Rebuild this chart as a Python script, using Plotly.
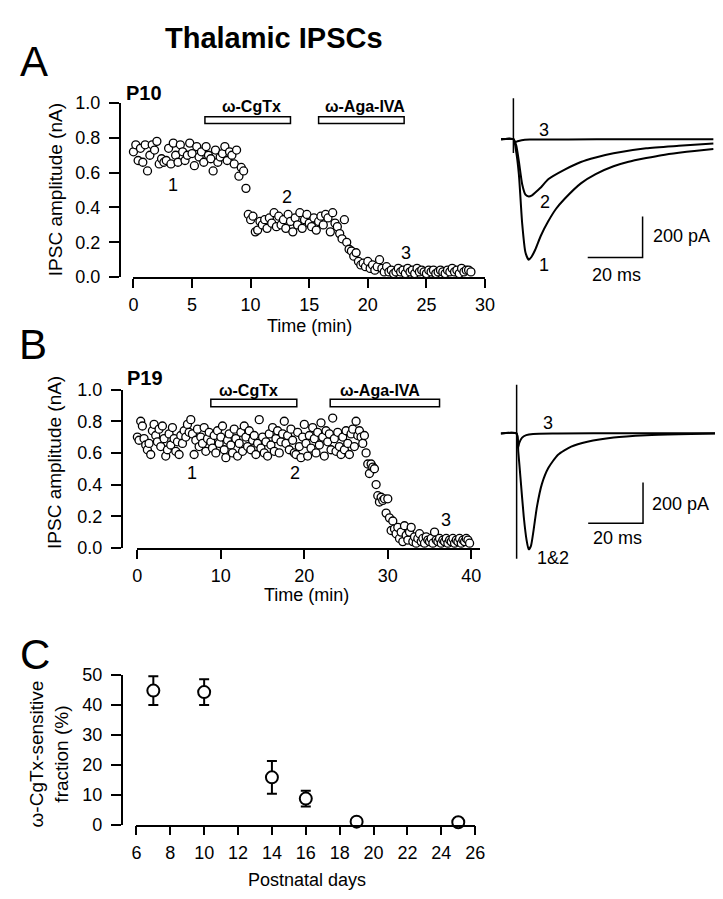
import plotly.graph_objects as go

W, H = 723, 899
FONT = "Liberation Sans, Arial, Helvetica, sans-serif"

# ---------------- Panel A: P10 time course ----------------
a_time = [
    0.0, 0.2, 0.4, 0.6, 0.8, 1.0, 1.2, 1.4, 1.6, 1.8,
    2.0, 2.2, 2.4, 2.6, 2.8, 3.0, 3.2, 3.4, 3.6, 3.8,
    4.0, 4.2, 4.4, 4.6, 4.8, 5.0, 5.2, 5.4, 5.6, 5.8,
    6.0, 6.2, 6.4, 6.6, 6.8, 7.0, 7.2, 7.4, 7.6, 7.8,
    8.0, 8.2, 8.4, 8.6, 8.8, 9.0, 9.2, 9.4, 9.6, 9.8,
    10.0, 10.2, 10.4, 10.6, 10.8, 11.0, 11.2, 11.4, 11.6, 11.8,
    12.0, 12.2, 12.4, 12.6, 12.8, 13.0, 13.2, 13.4, 13.6, 13.8,
    14.0, 14.2, 14.4, 14.6, 14.8, 15.0, 15.2, 15.4, 15.6, 15.8,
    16.0, 16.2, 16.4, 16.6, 16.8, 17.0, 17.2, 17.4, 17.6, 17.8,
    18.0, 18.2, 18.4, 18.6, 18.8, 19.0, 19.2, 19.4, 19.6, 19.8,
    20.0, 20.2, 20.4, 20.6, 20.8, 21.0, 21.2, 21.4, 21.6, 21.8,
    22.0, 22.2, 22.4, 22.6, 22.8, 23.0, 23.2, 23.4, 23.6, 23.8,
    24.0, 24.2, 24.4, 24.6, 24.8, 25.0, 25.2, 25.4, 25.6, 25.8,
    26.0, 26.2, 26.4, 26.6, 26.8, 27.0, 27.2, 27.4, 27.6, 27.8,
    28.0, 28.2, 28.4, 28.6, 28.8,
]
a_amp = [
    0.72, 0.76, 0.67, 0.74, 0.66, 0.76, 0.61, 0.70, 0.76, 0.73,
    0.78, 0.65, 0.68, 0.66, 0.67, 0.74, 0.65, 0.77, 0.70, 0.66,
    0.76, 0.72, 0.67, 0.70, 0.77, 0.71, 0.64, 0.75, 0.69, 0.72,
    0.66, 0.75, 0.70, 0.68, 0.61, 0.73, 0.66, 0.69, 0.71, 0.75,
    0.67, 0.72, 0.70, 0.65, 0.73, 0.58, 0.63, 0.61, 0.51, 0.36,
    0.33, 0.35, 0.26, 0.27, 0.32, 0.30, 0.33, 0.28, 0.34, 0.31,
    0.37, 0.29, 0.35, 0.30, 0.33, 0.28, 0.36, 0.32, 0.26, 0.34,
    0.30, 0.37, 0.28, 0.33, 0.36, 0.31, 0.29, 0.34, 0.27, 0.32,
    0.35, 0.30, 0.36, 0.34, 0.26, 0.37, 0.31, 0.29, 0.25, 0.22,
    0.33, 0.20, 0.16, 0.15, 0.12, 0.14, 0.09, 0.07, 0.08, 0.06,
    0.09, 0.05, 0.07, 0.04, 0.06, 0.10, 0.05, 0.03, 0.06, 0.03,
    0.04, 0.02, 0.03, 0.05, 0.03, 0.04, 0.02, 0.05, 0.03, 0.04,
    0.02, 0.05, 0.03, 0.04, 0.03, 0.02, 0.04, 0.03, 0.04, 0.02,
    0.03, 0.04, 0.03, 0.02, 0.04, 0.03, 0.05, 0.03, 0.04, 0.02,
    0.05, 0.03, 0.04, 0.04, 0.03,
]
a_xticks = [0, 5, 10, 15, 20, 25, 30]
a_yticks = [0.0, 0.2, 0.4, 0.6, 0.8, 1.0]
a_drugs = ["ω-CgTx", "ω-Aga-IVA"]
a_drug_start = [6.1, 15.8]
a_drug_end = [13.4, 23.1]
a_marks = ["1", "2", "3"]
a_mark_t = [3.4, 13.1, 23.3]
a_mark_y = [0.53, 0.46, 0.14]

# Panel A current traces (ms, pA)
a_tr1_t = [-4.5, 0.0, 1.0, 2.0, 3.2, 4.4, 5.6, 6.5, 8.0, 10.0, 12.7, 15.5, 18.7, 24.6, 30.0, 36.5, 42.0, 48.4, 54.0, 60.3, 66.0, 72.9]
a_tr1_i = [0, 0, -60, -171, -410, -552, -587, -575, -537, -470, -400, -340, -290, -215, -170, -132, -110, -92, -78, -66, -57, -48]
a_tr2_t = [-4.5, 0.0, 1.0, 2.0, 3.2, 4.4, 5.6, 6.8, 8.0, 10.0, 12.7, 18.7, 24.6, 30.0, 36.5, 48.4, 60.3, 72.9]
a_tr2_i = [0, 0, -29, -108, -219, -270, -279, -273, -259, -235, -195, -148, -111, -89, -68, -44, -32, -21]
a_tr3_t = [-4.5, 0.0, 0.5, 1.5, 3.0, 6.0, 20.0, 40.0, 72.9]
a_tr3_i = [0, 0, -15, -10, -5, -2, -1, 0, 0]
a_art_t = [0.0, 0.0]
a_art_i = [200, -67]

# ---------------- Panel B: P19 time course ----------------
b_time = [
    0.0, 0.2, 0.4, 0.6, 0.8, 1.0, 1.2, 1.4, 1.6, 1.8,
    2.0, 2.2, 2.4, 2.6, 2.8, 3.0, 3.2, 3.4, 3.6, 3.8,
    4.0, 4.2, 4.4, 4.6, 4.8, 5.0, 5.2, 5.4, 5.6, 5.8,
    6.0, 6.2, 6.4, 6.6, 6.8, 7.0, 7.2, 7.4, 7.6, 7.8,
    8.0, 8.2, 8.4, 8.6, 8.8, 9.0, 9.2, 9.4, 9.6, 9.8,
    10.0, 10.2, 10.4, 10.6, 10.8, 11.0, 11.2, 11.4, 11.6, 11.8,
    12.0, 12.2, 12.4, 12.6, 12.8, 13.0, 13.2, 13.4, 13.6, 13.8,
    14.0, 14.2, 14.4, 14.6, 14.8, 15.0, 15.2, 15.4, 15.6, 15.8,
    16.0, 16.2, 16.4, 16.6, 16.8, 17.0, 17.2, 17.4, 17.6, 17.8,
    18.0, 18.2, 18.4, 18.6, 18.8, 19.0, 19.2, 19.4, 19.6, 19.8,
    20.0, 20.2, 20.4, 20.6, 20.8, 21.0, 21.2, 21.4, 21.6, 21.8,
    22.0, 22.2, 22.4, 22.6, 22.8, 23.0, 23.2, 23.4, 23.6, 23.8,
    24.0, 24.2, 24.4, 24.6, 24.8, 25.0, 25.2, 25.4, 25.6, 25.8,
    26.0, 26.2, 26.4, 26.6, 26.8, 27.0, 27.2, 27.4, 27.6, 27.8,
    28.0, 28.2, 28.4, 28.6, 28.8, 29.0, 29.2, 29.4, 29.6, 29.8,
    30.0, 30.2, 30.4, 30.6, 30.8, 31.0, 31.2, 31.4, 31.6, 31.8,
    32.0, 32.2, 32.4, 32.6, 32.8, 33.0, 33.2, 33.4, 33.6, 33.8,
    34.0, 34.2, 34.4, 34.6, 34.8, 35.0, 35.2, 35.4, 35.6, 35.8,
    36.0, 36.2, 36.4, 36.6, 36.8, 37.0, 37.2, 37.4, 37.6, 37.8,
    38.0, 38.2, 38.4, 38.6, 38.8, 39.0, 39.2, 39.4, 39.6, 39.8,
]
b_amp = [
    0.70, 0.68, 0.80, 0.77, 0.69, 0.65, 0.62, 0.66, 0.59, 0.74,
    0.78, 0.71, 0.67, 0.75, 0.64, 0.77, 0.69, 0.58, 0.62, 0.72,
    0.65, 0.76, 0.69, 0.61, 0.67, 0.59, 0.71, 0.66, 0.74, 0.70,
    0.78, 0.73, 0.81, 0.72, 0.59, 0.68, 0.75, 0.64, 0.70, 0.66,
    0.76, 0.61, 0.69, 0.73, 0.67, 0.63, 0.71, 0.60, 0.74, 0.66,
    0.70, 0.77, 0.62, 0.57, 0.68, 0.72, 0.65, 0.60, 0.75, 0.69,
    0.58, 0.66, 0.73, 0.61, 0.77, 0.70, 0.64, 0.74, 0.62, 0.68,
    0.71, 0.59, 0.66, 0.81, 0.63, 0.70, 0.60, 0.67, 0.58, 0.72,
    0.65, 0.76, 0.61, 0.69, 0.74, 0.60, 0.67, 0.72, 0.80, 0.66,
    0.71, 0.62, 0.75, 0.68, 0.60, 0.59, 0.73, 0.64, 0.57, 0.70,
    0.78, 0.66, 0.58, 0.71, 0.63, 0.76, 0.69, 0.60, 0.73, 0.65,
    0.79, 0.70, 0.58, 0.74, 0.67, 0.72, 0.62, 0.82, 0.69, 0.61,
    0.73, 0.64, 0.59, 0.70, 0.62, 0.74, 0.66, 0.59, 0.72, 0.75,
    0.64, 0.80, 0.71, 0.74, 0.70, 0.66, 0.71, 0.60, 0.53, 0.47,
    0.53, 0.51, 0.50, 0.40, 0.33, 0.29, 0.32, 0.30, 0.31, 0.22,
    0.31, 0.19, 0.11, 0.17, 0.12, 0.09, 0.13, 0.06, 0.10, 0.04,
    0.14, 0.08, 0.05, 0.10, 0.13, 0.04, 0.07, 0.03, 0.06, 0.09,
    0.04, 0.06, 0.03, 0.07, 0.05, 0.04, 0.06, 0.03, 0.10, 0.05,
    0.04, 0.06, 0.03, 0.05, 0.04, 0.06, 0.03, 0.05, 0.04, 0.06,
    0.03, 0.05, 0.04, 0.06, 0.03, 0.05, 0.04, 0.06, 0.05, 0.03,
]
b_xticks = [0, 10, 20, 30, 40]
b_yticks = [0.0, 0.2, 0.4, 0.6, 0.8, 1.0]
b_drugs = ["ω-CgTx", "ω-Aga-IVA"]
b_drug_start = [8.8, 23.1]
b_drug_end = [19.1, 36.2]
b_marks = ["1", "2", "3"]
b_mark_t = [6.5, 18.9, 37.0]
b_mark_y = [0.475, 0.475, 0.177]

# Panel B current traces (ms, pA)
b_tr12_t = [-5.8, 0.0, 0.6, 1.4, 2.6, 3.6, 4.4, 5.2, 6.2, 7.4, 9.2, 11.6, 15.1, 19.9, 25.8, 35.4, 47.3, 59.2, 72.5]
b_tr12_i = [0, 0, -88, -216, -408, -520, -568, -552, -472, -360, -248, -168, -104, -64, -40, -19, -8, -3, 0]
b_tr3_t = [-5.8, 0.0, 0.5, 1.0, 2.0, 3.5, 6.0, 15.0, 40.0, 72.5]
b_tr3_i = [0, 0, -70, -45, -20, -8, -2, 0, 2, 2]
b_art_t = [0.0, 0.0]
b_art_i = [240, -614]

# ---------------- Panel C ----------------
c_days = [7, 10, 14, 16, 19, 25]
c_frac = [44.8, 44.3, 15.8, 8.7, 1.0, 0.8]
c_err = [4.8, 4.3, 5.5, 2.6, 0.0, 0.0]
c_xticks = [6, 8, 10, 12, 14, 16, 18, 20, 22, 24, 26]
c_yticks = [0, 10, 20, 30, 40, 50]


def fx(p):
    return p / W


def fy(p):
    return 1 - p / H


fig = go.Figure()

small_marker = dict(symbol="circle", size=8, color="white",
                    line=dict(color="black", width=1.3))

fig.add_trace(go.Scatter(x=a_time, y=a_amp, mode="markers", marker=small_marker,
                         xaxis="x", yaxis="y", cliponaxis=False, showlegend=False))
fig.add_trace(go.Scatter(x=b_time, y=b_amp, mode="markers", marker=small_marker,
                         xaxis="x3", yaxis="y3", cliponaxis=False, showlegend=False))

for tx, ty in [(a_tr1_t, a_tr1_i), (a_tr2_t, a_tr2_i), (a_tr3_t, a_tr3_i)]:
    fig.add_trace(go.Scatter(x=tx, y=ty, mode="lines",
                             line=dict(color="black", width=2, shape="spline", smoothing=0.6),
                             xaxis="x2", yaxis="y2", showlegend=False, cliponaxis=False))
fig.add_trace(go.Scatter(x=a_art_t, y=a_art_i, mode="lines", line=dict(color="black", width=1.5),
                         xaxis="x2", yaxis="y2", showlegend=False, cliponaxis=False))
for tx, ty in [(b_tr12_t, b_tr12_i), (b_tr3_t, b_tr3_i)]:
    fig.add_trace(go.Scatter(x=tx, y=ty, mode="lines",
                             line=dict(color="black", width=2, shape="spline", smoothing=0.6),
                             xaxis="x4", yaxis="y4", showlegend=False, cliponaxis=False))
fig.add_trace(go.Scatter(x=b_art_t, y=b_art_i, mode="lines", line=dict(color="black", width=1.5),
                         xaxis="x4", yaxis="y4", showlegend=False, cliponaxis=False))

# scale bars (20 ms, 200 pA)
fig.add_trace(go.Scatter(x=[27.1, 47.1, 47.1], y=[-576, -576, -376], mode="lines",
                         line=dict(color="black", width=1.5), xaxis="x2", yaxis="y2",
                         showlegend=False, cliponaxis=False))
fig.add_trace(go.Scatter(x=[26.1, 46.1, 46.1], y=[-440, -440, -240], mode="lines",
                         line=dict(color="black", width=1.5), xaxis="x4", yaxis="y4",
                         showlegend=False, cliponaxis=False))

# Panel C
fig.add_trace(go.Scatter(x=c_days, y=c_frac, mode="markers",
                         error_y=dict(type="data", array=c_err, visible=True, color="black",
                                      thickness=2, width=5),
                         marker=dict(symbol="circle", size=12, color="white",
                                     line=dict(color="black", width=2)),
                         xaxis="x5", yaxis="y5", showlegend=False, cliponaxis=False))

tickfont = dict(family=FONT, size=18, color="black")
common = dict(showline=True, linecolor="black", linewidth=1.5, ticks="outside",
              tickcolor="black", tickwidth=1.5, showgrid=False, zeroline=False,
              tickfont=tickfont, fixedrange=True)
hidden = dict(visible=False, showgrid=False, zeroline=False, fixedrange=True)

layout = dict(
    width=W, height=H, margin=dict(l=0, r=0, t=0, b=0),
    paper_bgcolor="white", plot_bgcolor="white", showlegend=False,
    font=dict(family=FONT, color="black"),
    xaxis=dict(domain=[fx(123), fx(482)], range=[0, 30], anchor="y",
               tickvals=a_xticks, ticklen=9, ticklabelstandoff=2, **common),
    yaxis=dict(domain=[fy(265), fy(87)], range=[0, 1], anchor="free", position=fx(109),
               tickvals=a_yticks, tickformat=".1f", ticklen=10, ticklabelstandoff=5, **common),
    xaxis2=dict(domain=[fx(498), fx(718)], range=[-4.64, 73.9], anchor="y2", **hidden),
    yaxis2=dict(domain=[fy(280), fy(70)], range=[-743, 257], anchor="x2", **hidden),
    xaxis3=dict(domain=[fx(127), fx(476.5)], range=[0, 41], anchor="y3",
                tickvals=b_xticks, ticklen=9, ticklabelstandoff=2, **common),
    yaxis3=dict(domain=[fy(542), fy(380)], range=[0, 1], anchor="free", position=fx(111),
                tickvals=b_yticks, tickformat=".1f", ticklen=10, ticklabelstandoff=5, **common),
    xaxis4=dict(domain=[fx(498), fx(718)], range=[-5.82, 72.75], anchor="y4", **hidden),
    yaxis4=dict(domain=[fy(570), fy(360)], range=[-695.4, 311.8], anchor="x4", **hidden),
    xaxis5=dict(domain=[fx(126), fx(472)], range=[6, 26], anchor="y5",
                tickvals=c_xticks, ticklen=9, ticklabelstandoff=2, **common),
    yaxis5=dict(domain=[fy(825), fy(672)], range=[0, 50], anchor="free", position=fx(111),
                tickvals=c_yticks, ticklen=10, ticklabelstandoff=5, **common),
)
fig.update_layout(**layout)

ann = []
shapes = []


def txt(text, x, y, size, bold=False, xref="paper", yref="paper", angle=0, xanchor="center"):
    ann.append(dict(text=("<b>%s</b>" % text) if bold else text, x=x, y=y, xref=xref, yref=yref,
                    showarrow=False, xanchor=xanchor, yanchor="middle", textangle=angle,
                    font=dict(family=FONT, size=size, color="black")))


# Title and panel letters
txt("Thalamic IPSCs", fx(267), fy(20), 29, bold=True)
txt("A", fx(21), fy(45), 42)
txt("B", fx(20), fy(334), 42)
txt("C", fx(22), fy(651), 42)
txt("P10", fx(134), fy(77), 20, bold=True)
txt("P19", fx(135), fy(368), 20, bold=True)

# axis titles
txt("IPSC amplitude (nA)", fx(43), fy(176), 19, angle=-90)
txt("IPSC amplitude (nA)", fx(43), fy(455), 19, angle=-90)
txt("Time (min)", fx(303), fy(315), 18)
txt("Time (min)", fx(300), fy(590), 18)
txt("ω-CgTx-sensitive<br>fraction (%)", fx(37), fy(753), 19, angle=-90)
txt("Postnatal days", fx(300), fy(882), 18)

# drug bars and labels
for name, s, e in zip(a_drugs, a_drug_start, a_drug_end):
    shapes.append(dict(type="rect", xref="x", yref="y", x0=s, x1=e, y0=0.882, y1=0.921,
                       line=dict(color="black", width=1.5), fillcolor="white"))
    txt(name, (s + e) / 2 + 0.3, 0.983, 16, bold=True, xref="x", yref="y")
for name, s, e in zip(b_drugs, b_drug_start, b_drug_end):
    shapes.append(dict(type="rect", xref="x3", yref="y3", x0=s, x1=e, y0=0.891, y1=0.938,
                       line=dict(color="black", width=1.5), fillcolor="white"))
    txt(name, (s + e) / 2 - 0.6, 0.995, 16, bold=True, xref="x3", yref="y3")

for m, t, v in zip(a_marks, a_mark_t, a_mark_y):
    txt(m, t, v, 18, xref="x", yref="y")
for m, t, v in zip(b_marks, b_mark_t, b_mark_y):
    txt(m, t, v, 18, xref="x3", yref="y3")

# trace labels
txt("3", 11.1, 43, 18, xref="x2", yref="y2")
txt("2", 11.4, -305, 18, xref="x2", yref="y2")
txt("1", 11.1, -614, 18, xref="x2", yref="y2")
txt("200 pA", 50.0, -471, 18, xref="x2", yref="y2", xanchor="left")
txt("20 ms", 37.5, -662, 18, xref="x2", yref="y2")
txt("3", 11.3, 53, 18, xref="x4", yref="y4")
txt("1&2", 13.4, -608, 18, xref="x4", yref="y4")
txt("200 pA", 48.5, -345, 18, xref="x4", yref="y4", xanchor="left")
txt("20 ms", 36.9, -513, 18, xref="x4", yref="y4")

fig.update_layout(annotations=ann, shapes=shapes)
fig.write_html("out.html")
